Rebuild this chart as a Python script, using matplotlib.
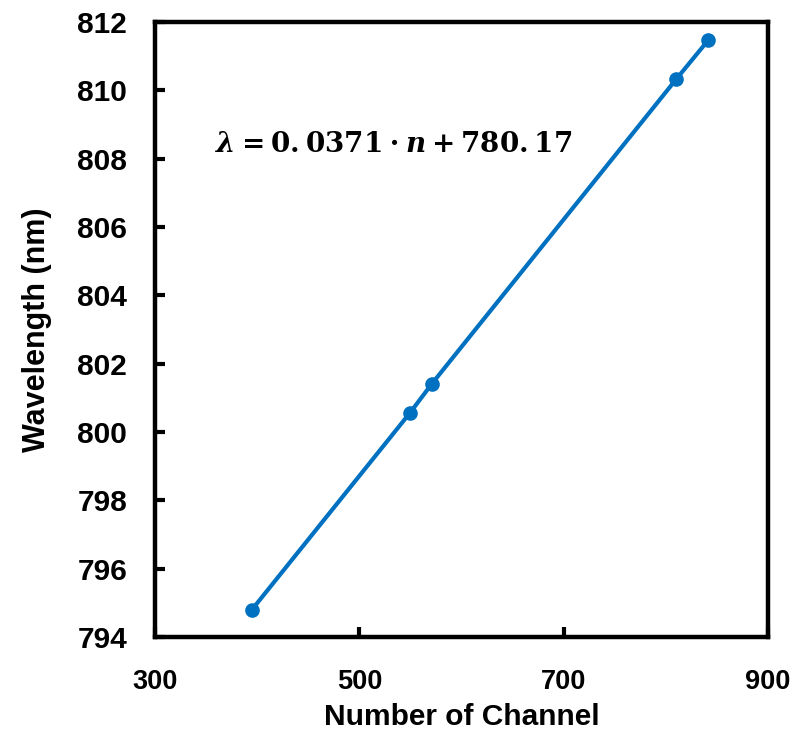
import matplotlib.pyplot as plt

plt.rcParams["font.family"] = ["Liberation Sans", "DejaVu Sans"]
plt.rcParams["font.weight"] = "bold"
plt.rcParams["mathtext.fontset"] = "custom"
plt.rcParams["mathtext.rm"] = "DejaVu Serif:bold"
plt.rcParams["mathtext.it"] = "DejaVu Serif:bold:italic"
plt.rcParams["mathtext.bf"] = "DejaVu Serif:bold"

# calibration points: channel number vs wavelength
channel = [394.6, 549.8, 571.2, 810.2, 841.5]
wavelength = [794.79, 800.57, 801.42, 810.33, 811.47]

x_ticks = [300, 500, 700, 900]
y_ticks = [794, 796, 798, 800, 802, 804, 806, 808, 810, 812]

fig = plt.figure(figsize=(7.92, 7.36), dpi=100)
ax = fig.add_axes([0.1957, 0.1345, 0.7740, 0.8355])

ax.plot(channel, wavelength, color="#0070C0", lw=3, marker="o", ms=9.5,
        solid_capstyle="round")

ax.set_xlim(300, 900)
ax.set_ylim(794, 812)
ax.set_xticks(x_ticks)
ax.set_yticks(y_ticks)

for sp in ax.spines.values():
    sp.set_linewidth(3.2)

ax.tick_params(direction="in", width=3, length=7, labelsize=21.5,
               top=False, right=False)
ax.tick_params(axis="x", pad=23, labelsize=19.5)
ax.tick_params(axis="y", pad=20)

ax.set_xlabel("Number of Channel", fontsize=21.5, fontweight="bold", labelpad=6)
ax.set_ylabel("Wavelength (nm)", fontsize=22, fontweight="bold", labelpad=18)

ax.text(0.39, 0.80, r"$\lambda = 0.\!\,0371 \cdot n + 780.\!\,17$",
        transform=ax.transAxes, ha="center", va="center", fontsize=20)

fig.savefig("out.png", dpi=100)
